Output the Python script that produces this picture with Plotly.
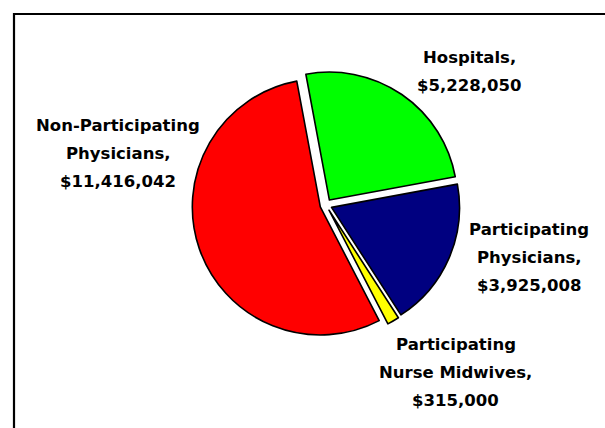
import plotly.graph_objects as go

# ---- data ----
labels = ["Hospitals", "Participating Physicians", "Participating Nurse Midwives", "Non-Participating Physicians"]
label_lines = [["Hospitals"], ["Participating", "Physicians"], ["Participating", "Nurse Midwives"], ["Non-Participating", "Physicians"]]
values = [5228050, 3925008, 315000, 11416042]
colors = ["#00FF00", "#000080", "#FFFF00", "#FF0000"]

W, H = 605, 428
FONT = dict(family="DejaVu Sans, Arial, sans-serif", size=16.5, color="black", weight="bold")

# pie placement (pixels)
cx, cy, half = 326, 205, 134

fig = go.Figure(go.Pie(
    labels=labels,
    values=values,
    sort=False,
    direction="clockwise",
    rotation=-10.6,
    pull=[0.047] * 4,
    marker=dict(colors=colors, line=dict(color="black", width=1.6)),
    textinfo="none",
    hoverinfo="label+value",
    showlegend=False,
    domain=dict(x=[(cx - half) / W, (cx + half) / W],
                y=[(H - cy - half) / H, (H - cy + half) / H]),
))

# label anchor (centre of first line) in pixels
label_pos = [(469, 57.5), (529, 229), (455.5, 344), (117.5, 125)]
line_gap = 28.3

annotations = []
for lines, v, (lx, ly) in zip(label_lines, values, label_pos):
    texts = lines[:-1] + [lines[-1] + ","] + ["${:,}".format(v)]
    for k, t in enumerate(texts):
        annotations.append(dict(
            text=t, x=lx / W, y=1 - (ly + k * line_gap) / H,
            xref="paper", yref="paper", xanchor="center", yanchor="middle",
            showarrow=False, font=FONT,
        ))

fig.update_layout(
    width=W, height=H,
    margin=dict(l=0, r=0, t=0, b=0),
    paper_bgcolor="white", plot_bgcolor="white",
    annotations=annotations,
    shapes=[dict(type="rect", xref="paper", yref="paper",
                 x0=14 / W, x1=1.1, y0=-0.1, y1=1 - 14 / H,
                 line=dict(color="black", width=2.2), fillcolor="rgba(0,0,0,0)")],
)

fig.write_html("out.html",
               config={"displayModeBar": False},
               post_script="document.body.style.margin='0';document.body.style.overflow='hidden';")
